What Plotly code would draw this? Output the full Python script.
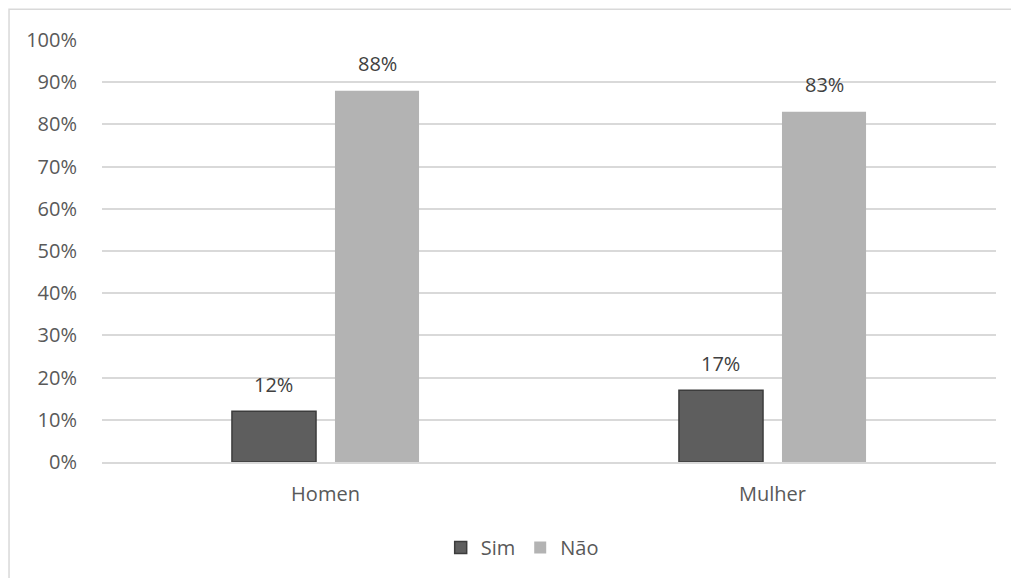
import plotly.graph_objects as go

# Share of answers per group
categories = ["Homen", "Mulher"]
sim_values = [0.12, 0.17]
nao_values = [0.88, 0.83]
y_tick_values = [0, 0.1, 0.2, 0.3, 0.4, 0.5, 0.6, 0.7, 0.8, 0.9, 1.0]
y_tick_labels = ["0%", "10%", "20%", "30%", "40%", "50%", "60%", "70%", "80%", "90%", "100%"]

FONT = "Open Sans"
TEXT_COLOR = "#595959"
FS = 20

fig = go.Figure()

fig.add_trace(go.Bar(
    name="Sim",
    x=categories,
    y=sim_values,
    marker=dict(color="#5e5e5e", line=dict(color="#3c3c3c", width=1.5)),
))
fig.add_trace(go.Bar(
    name="Não",
    x=categories,
    y=nao_values,
    marker=dict(color="#b3b3b3", line=dict(width=0)),
))

# Value labels above each bar
for i, cat in enumerate(categories):
    for vals, shift in ((sim_values, -52), (nao_values, 52)):
        fig.add_annotation(
            x=cat, y=vals[i], text=f"{round(vals[i] * 100)}%",
            xref="x", yref="y", showarrow=False,
            xshift=shift, yshift=27,
            font=dict(family=FONT, size=FS, color="#404040"),
        )

# Outer chart border
fig.add_shape(
    type="rect", xref="paper", yref="paper",
    x0=-0.104, x1=1.2, y0=-0.6, y1=1.073,
    line=dict(color="#d9d9d9", width=1.5), fillcolor="rgba(0,0,0,0)",
    layer="below",
)

fig.update_layout(
    width=1011, height=578,
    margin=dict(l=102, r=15, t=40, b=115),
    paper_bgcolor="white", plot_bgcolor="white",
    barmode="group", bargap=0.539, bargroupgap=0.184,
    font=dict(family=FONT, size=FS, color=TEXT_COLOR),
    showlegend=True,
    legend=dict(
        orientation="h", x=0.47, xanchor="center", y=-0.2, yanchor="middle",
        font=dict(family=FONT, size=FS, color=TEXT_COLOR),
        itemwidth=30, traceorder="normal", tracegroupgap=0,
    ),
    xaxis=dict(
        showgrid=False, showline=True, linecolor="#d9d9d9", linewidth=1.5,
        ticks="outside", ticklen=13, tickcolor="rgba(0,0,0,0)",
        tickfont=dict(family=FONT, size=FS, color=TEXT_COLOR),
    ),
    yaxis=dict(
        range=[0, 1.0], tickvals=y_tick_values, ticktext=y_tick_labels,
        showgrid=True, gridcolor="#d9d9d9", gridwidth=1.5,
        zeroline=False, showline=False,
        ticks="outside", ticklen=20, tickcolor="rgba(0,0,0,0)",
        tickfont=dict(family=FONT, size=FS, color=TEXT_COLOR),
    ),
)

fig.write_html("out.html")
